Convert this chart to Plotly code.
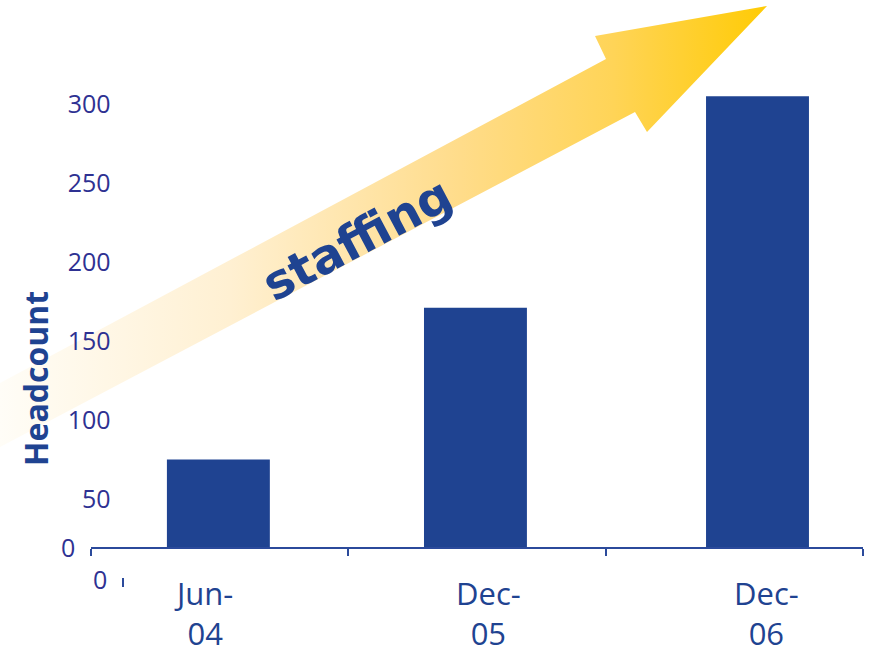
import plotly.graph_objects as go

# ---- data ----
categories = ["Jun-04", "Dec-05", "Dec-06"]
headcount = [75, 171, 305]
y_ticks = [50, 100, 150, 200, 250, 300]
y_tick_labels = ["50", "100", "150", "200", "250", "300"]

# ---- styles ----
W, H = 871, 653
BAR = "#1f4391"
TICKC = "#2e3192"
AXC = "#2b4a9b"
bar_offsets = [-0.205, -0.206, -0.11]
label_shift = [-16, 11, 32]

def px(x):
    return x / W

def py(y):
    return 1 - y / H

fig = go.Figure()

# decorative arrow (pixel-space overlay subplot, drawn first = behind)
arrow_x = [0, 0, 606, 595, 767, 647, 635, 0]
arrow_y = [447, 383, 59, 36, 6, 132, 112, 447]
fig.add_trace(go.Scatter(
    x=arrow_x, y=arrow_y, mode="lines", fill="toself",
    line=dict(width=0, color="rgba(0,0,0,0)"),
    fillgradient=dict(type="horizontal", colorscale=[
        [0.0, "#fffdf7"], [0.3, "#fff0d2"], [0.6, "#ffdc8a"],
        [0.8, "#ffd457"], [1.0, "#ffcb05"]]),
    hoverinfo="skip", showlegend=False, xaxis="x", yaxis="y"))

fig.add_trace(go.Bar(
    x=categories, y=headcount, width=0.4, offset=bar_offsets,
    marker=dict(color=BAR, line=dict(width=0)),
    showlegend=False, xaxis="x2", yaxis="y2"))

fig.update_layout(
    width=W, height=H, margin=dict(l=0, r=0, t=0, b=0),
    paper_bgcolor="white", plot_bgcolor="rgba(0,0,0,0)",
    xaxis=dict(domain=[0, 1], range=[0, W], visible=False, fixedrange=True),
    yaxis=dict(domain=[0, 1], range=[H, 0], visible=False, fixedrange=True),
    xaxis2=dict(domain=[px(91), px(863)], anchor="y2", type="category",
                range=[-0.5, 2.5], showgrid=False, zeroline=False,
                showline=True, linecolor=AXC, linewidth=2,
                ticks="outside", tickson="boundaries", ticklen=7,
                tickcolor=AXC, tickwidth=2, showticklabels=False),
    yaxis2=dict(domain=[py(547), py(41)], anchor="free", position=0.127,
                range=[19.5, 340.0], showgrid=False, zeroline=False,
                showline=False, ticks="",
                tickvals=y_ticks, ticktext=y_tick_labels,
                tickfont=dict(family="Open Sans", size=25, color=TICKC)),
)

ann = []
for i, lab in enumerate(categories):
    top, bottom = lab.split("-")
    ann.append(dict(text=top + "-<br>" + bottom, x=i, xref="x2",
                    y=py(613), yref="paper",
                    xshift=label_shift[i], showarrow=False, xanchor="center",
                    yanchor="middle",
                    font=dict(family="Open Sans", size=31, color=BAR)))

ann += [
    dict(text="<b>Headcount</b>", x=px(35), y=py(379), xref="paper", yref="paper",
         xanchor="center", yanchor="middle",
         textangle=-90, showarrow=False,
         font=dict(family="Open Sans", size=32, color=BAR)),
    dict(text="<b>staffing</b>", x=px(357), y=py(239), xref="paper", yref="paper",
         xanchor="center", yanchor="middle",
         textangle=-28, showarrow=False,
         font=dict(family="DejaVu Sans", size=48, color=BAR)),
    dict(text="0", x=px(77), y=py(547), xref="paper", yref="paper",
         xanchor="right", yanchor="middle", showarrow=False,
         font=dict(family="Open Sans", size=25, color=TICKC)),
    dict(text="0", x=px(109), y=py(579), xref="paper", yref="paper",
         xanchor="right", yanchor="middle", showarrow=False,
         font=dict(family="Open Sans", size=25, color=TICKC)),
]
fig.update_layout(annotations=ann)

fig.add_shape(type="line", x0=123, x1=123, y0=578, y1=587, xref="x", yref="y",
              line=dict(color=AXC, width=2), layer="above")

fig.write_html("out.html")
